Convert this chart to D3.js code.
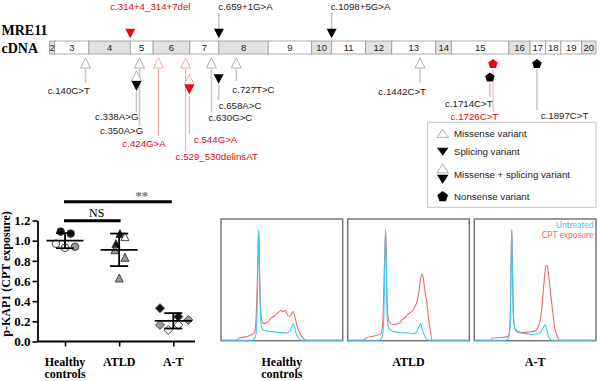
<!DOCTYPE html>
<html><head><meta charset="utf-8">
<script src="https://cdn.jsdelivr.net/npm/d3@7"></script>
<style>body{margin:0;background:#fff} svg{display:block}</style>
</head><body>
<svg id="chart" width="600" height="381"></svg>
<script>
// ---------------- data ----------------
const exonNumbers = [2,3,4,5,6,7,8,9,10,11,12,13,14,15,16,17,18,19,20];
const exonEnds    = [20,153,314,403,546,659,851,1020,1098,1230,1332,1503,1565,1788,1870,1931,1990,2071,2127];
const exonShaded  = [true,false,true,false,true,false,true,false,true,false,true,false,true,false,true,false,false,false,true];
const cdnaLength  = 2127;

const aboveNames     = ["c.314+4_314+7del","c.659+1G>A","c.1098+5G>A"];
const abovePositions = [314,659,1098];
const aboveHighlight = [true,false,false];

const belowNames     = ["c.140C>T","c.338A>G","c.350A>G","c.424G>A","c.529_530delinsAT","c.544G>A","c.630G>C","c.658A>C","c.727T>C","c.1442C>T","c.1714C>T","c.1726C>T","c.1897C>T"];
const belowPositions = [140,338,350,424,529.5,544,630,658,727,1442,1714,1726,1897];
const belowTypes     = ["missense","missense+splicing","missense","missense","missense","missense+splicing","missense","splicing","missense","missense","nonsense","nonsense","nonsense"];
const belowHighlight = [false,false,false,true,true,true,false,false,false,false,false,true,false];

const legendLabels = ["Missense variant","Splicing variant","Missense + splicing variant","Nonsense variant"];
const legendTypes  = ["missense","splicing","missense+splicing","nonsense"];

const groups        = ["Healthy controls","ATLD","A-T"];
const healthyValues = [1.09,1.07,0.97,0.93,0.94];
const healthyFills  = ["black","black","white","white","gray"];
const atldValues    = [1.07,0.97,1.04,0.91,0.835,0.63];
const atldFills     = ["black","black","white","gray","gray","gray"];
const atValues      = [0.33,0.246,0.164,0.114,0.164,0.213];
const atFills       = ["black","black","gray","white","white","gray"];
const yTicks        = [0,0.2,0.4,0.6,0.8,1.0,1.2];
const yTitle        = "p-KAP1 (CPT exposure)";
const sigLabels     = ["**","NS"];

const seriesNames = ["Untreated","CPT exposure"];
const histPanels  = ["Healthy controls","ATLD","A-T"];
const healthyUntreated = [[0,0],[50,0],[54,0.01],[57,0.04],[59,0.2],[60.5,0.6],[61.5,0.95],[62,1.0],[63,0.7],[64.5,0.3],[66,0.14],[70,0.09],[80,0.08],[95,0.07],[108,0.065],[113,0.08],[116,0.12],[118.5,0.15],[120.5,0.13],[123,0.07],[127,0.02],[132,0],[200,0]];
const healthyCPT = [[0,0],[25,0],[30,0.02],[40,0.03],[50,0.05],[55,0.07],[58,0.25],[60,0.6],[61.5,0.95],[62.2,0.99],[63.5,0.6],[65,0.3],[67,0.18],[70,0.15],[76,0.16],[82,0.2],[88,0.22],[94,0.25],[98,0.27],[102,0.26],[106,0.27],[110,0.22],[114,0.22],[117,0.25],[119,0.26],[121,0.22],[124,0.15],[128,0.08],[133,0.03],[140,0],[200,0]];
const atldUntreated = [[0,0],[52,0],[56,0.02],[59,0.15],[61,0.7],[62.3,1.0],[63.5,0.7],[65,0.2],[68,0.1],[75,0.08],[86,0.07],[100,0.065],[109,0.06],[114,0.08],[117,0.12],[120,0.15],[122,0.11],[125,0.06],[130,0.01],[135,0],[200,0]];
const atldCPT = [[0,0],[25,0],[30,0.02],[45,0.04],[55,0.06],[58,0.2],[60.5,0.7],[62.3,1.0],[63.5,0.75],[65,0.3],[68,0.17],[75,0.14],[82,0.15],[86,0.16],[90,0.19],[94,0.2],[98,0.23],[103,0.25],[107,0.27],[111,0.31],[114,0.35],[116,0.4],[119,0.52],[122,0.6],[124,0.57],[127,0.45],[130,0.35],[133,0.2],[136,0.08],[139,0],[200,0]];
const atUntreated = [[0,0],[52,0],[56,0.02],[59,0.15],[60.5,0.7],[61.5,1.0],[62.5,0.7],[64,0.25],[67,0.1],[72,0.07],[85,0.06],[95,0.05],[105,0.06],[110,0.08],[114,0.12],[116.5,0.14],[119,0.1],[122,0.03],[127,0],[200,0]];
const atCPT = [[0,0],[27,0],[30,0.02],[45,0.025],[53,0.03],[57,0.05],[59,0.2],[60.5,0.7],[61.8,1.0],[63,0.6],[64.5,0.2],[67,0.1],[72,0.08],[80,0.07],[90,0.075],[98,0.08],[105,0.12],[109,0.2],[112,0.35],[115,0.55],[118,0.68],[120,0.67],[123,0.55],[126,0.4],[129,0.25],[132,0.12],[136,0.04],[140,0],[200,0]];

// ---------------- layout ----------------
const SANS = "'Liberation Sans', Arial, sans-serif";
const SERIF = "'Liberation Serif', 'Times New Roman', serif";
const RED = "#e30613", LIGHTRED = "#f5a3a3", GRAYLINE = "#c8c8c8", TRI_GRAY = "#b0b0b0";

const svg = d3.select("#chart");

// ===== gene diagram =====
const xGene = d3.scaleLinear().domain([0, cdnaLength]).range([49.6, 596]);
const barTop = 41, barH = 13;

svg.append("text").attr("x",1.5).attr("y",35).attr("font-family",SERIF).attr("font-weight","bold").attr("font-size",14).text("MRE11");
svg.append("text").attr("x",1.5).attr("y",53).attr("font-family",SERIF).attr("font-weight","bold").attr("font-size",14).text("cDNA");

const exons = exonNumbers.map((n,i)=>({n, start: i===0?0:exonEnds[i-1], end: exonEnds[i], shaded: exonShaded[i]}));
const eg = svg.append("g");
eg.selectAll("rect").data(exons).join("rect")
  .attr("x", d=>xGene(d.start)).attr("y", barTop)
  .attr("width", d=>xGene(d.end)-xGene(d.start)).attr("height", barH)
  .attr("fill", d=>d.shaded?"#e2e2e2":"#fff").attr("stroke","#9a9a9a").attr("stroke-width",0.8);
eg.selectAll("text").data(exons).join("text")
  .attr("x", d=>(xGene(d.start)+xGene(d.end))/2).attr("y", barTop+10)
  .attr("text-anchor","middle").attr("font-family",SANS).attr("font-size",9.5).attr("fill","#222")
  .text(d=>d.n);

function tri(x,y,w,h,up){ return up ? `M${x-w/2},${y+h/2}L${x+w/2},${y+h/2}L${x},${y-h/2}Z` : `M${x-w/2},${y-h/2}L${x+w/2},${y-h/2}L${x},${y+h/2}Z`; }
function pent(x,y,r){ return d3.range(5).map(i=>{const a=(-90+i*72)*Math.PI/180; return [x+r*Math.cos(a), y+r*Math.sin(a)];}); }

function drawMarker(g, type, x, y, red, s){
  s = s || 1;
  const w = 10*s, h = 10*s;
  if (type==="missense" || type==="missense+splicing"){
    g.append("path").attr("d", tri(x,y,w,h,true)).attr("fill","#fff").attr("stroke", red?LIGHTRED:TRI_GRAY).attr("stroke-width",1);
  }
  if (type==="splicing"){
    g.append("path").attr("d", tri(x,y,w,h*0.95,false)).attr("fill", red?RED:"#000");
  }
  if (type==="missense+splicing"){
    g.append("path").attr("d", tri(x,y+h,w,h,false)).attr("fill", red?RED:"#000");
  }
  if (type==="nonsense"){
    g.append("polygon").attr("points", pent(x,y,5*s).map(p=>p.join(",")).join(" ")).attr("fill", red?RED:"#000");
  }
}

// label layout (marker y, line extent, label anchor/offset/baseline)
const aboveLayout = {
  "c.314+4_314+7del": {my:33.5, line:null, lx:-20, ly:10},
  "c.659+1G>A":       {my:33.5, line:[13,29], lx:-0.6, ly:10},
  "c.1098+5G>A":      {my:33.5, line:[13,29], lx:-1, ly:10}
};
const belowLayout = {
  "c.140C>T":          {my:63,   line:[69,83],   anchor:"end",   lx:4.4,  ly:94},
  "c.338A>G":          {my:76,   line:[92,112],  anchor:"end",   lx:2,    ly:120},
  "c.350A>G":          {my:63,   line:[69,126],  anchor:"end",   lx:3.8,  ly:133.5},
  "c.424G>A":          {my:63,   line:[69,136],  anchor:"end",   lx:7.2,  ly:147},
  "c.529_530delinsAT": {my:63,   line:[69,151],  anchor:"start", lx:-10,  ly:160},
  "c.544G>A":          {my:79.5, line:[96,134],  anchor:"start", lx:4.6,  ly:142.5},
  "c.630G>C":          {my:63,   line:[69,112],  anchor:"start", lx:-3,   ly:121},
  "c.658A>C":          {my:79,   line:[85,100],  anchor:"start", lx:0,    ly:108.5},
  "c.727T>C":          {my:63,   line:[69,81],   anchor:"start", lx:-4,   ly:93},
  "c.1442C>T":         {my:63,   line:[69,83],   anchor:"end",   lx:6,    ly:95},
  "c.1714C>T":         {my:77.5, line:[83,97],   anchor:"end",   lx:2.8,  ly:107},
  "c.1726C>T":         {my:64,   line:[69,112],  anchor:"end",   lx:5.3,  ly:119.5},
  "c.1897C>T":         {my:64,   line:[69,110],  anchor:"start", lx:3.8,  ly:118.5}
};

const vg = svg.append("g");
belowNames.forEach((name,i)=>{
  const L = belowLayout[name], x = xGene(belowPositions[i]);
  vg.append("line").attr("x1",x).attr("x2",x).attr("y1",L.line[0]).attr("y2",L.line[1])
    .attr("stroke", belowHighlight[i]?LIGHTRED:GRAYLINE).attr("stroke-width", belowHighlight[i]?1:1.6);
});
aboveNames.forEach((name,i)=>{
  const L = aboveLayout[name], x = xGene(abovePositions[i]);
  if (L.line) vg.append("line").attr("x1",x).attr("x2",x).attr("y1",L.line[0]).attr("y2",L.line[1]).attr("stroke",GRAYLINE).attr("stroke-width",1.6);
});
belowNames.forEach((name,i)=>{
  const L = belowLayout[name], x = xGene(belowPositions[i]);
  drawMarker(vg, belowTypes[i], x, L.my, belowHighlight[i]);
  vg.append("text").attr("x", x+L.lx).attr("y", L.ly).attr("text-anchor", L.anchor)
    .attr("font-family",SANS).attr("font-size",9.7).attr("fill", belowHighlight[i]?RED:"#222").text(name);
});
aboveNames.forEach((name,i)=>{
  const L = aboveLayout[name], x = xGene(abovePositions[i]);
  drawMarker(vg, "splicing", x, L.my, aboveHighlight[i]);
  vg.append("text").attr("x", x+L.lx).attr("y", L.ly).attr("font-family",SANS).attr("font-size",9.7)
    .attr("fill", aboveHighlight[i]?RED:"#222").text(name);
});

// legend
const lg = svg.append("g");
lg.append("rect").attr("x",427.7).attr("y",122.3).attr("width",168.3).attr("height",85).attr("fill","#fff").attr("stroke","#c4c4c4").attr("stroke-width",1);
const legY = [133.3,151.7,168.3,196.7], legTextY = [136.6,155,178.3,200];
legendTypes.forEach((t,i)=>{
  const x = 442.7, y = legY[i];
  if (t==="missense") lg.append("path").attr("d",tri(x,y,11.5,8,true)).attr("fill","#fff").attr("stroke",TRI_GRAY);
  if (t==="splicing") lg.append("path").attr("d",tri(x,y,11.5,8,false)).attr("fill","#000");
  if (t==="missense+splicing"){
    lg.append("path").attr("d",tri(x,y,11.5,9,true)).attr("fill","#fff").attr("stroke",TRI_GRAY);
    lg.append("path").attr("d",tri(x,y+11,11.5,9,false)).attr("fill","#000");
  }
  if (t==="nonsense") lg.append("polygon").attr("points", pent(x,y,5.6).map(p=>p.join(",")).join(" ")).attr("fill","#000");
  lg.append("text").attr("x",454).attr("y",legTextY[i]).attr("font-family",SANS).attr("font-size",9.7).attr("fill","#222").text(legendLabels[i]);
});

// ===== scatter / error bar plot =====
const xS = d3.scalePoint().domain(groups).range([65,173.3]);
const yS = d3.scaleLinear().domain([0,1.2]).range([341.5,220.5]);

const yAx = svg.append("g").attr("transform","translate(37.5,0)")
  .call(d3.axisLeft(yS).tickValues(yTicks).tickFormat(d3.format(".1f")).tickSize(5).tickSizeOuter(0));
yAx.select(".domain").attr("stroke","#000").attr("stroke-width",1.8);
yAx.selectAll(".tick line").attr("stroke","#000").attr("stroke-width",1.6);
yAx.selectAll(".tick text").attr("font-family",SERIF).attr("font-weight","bold").attr("font-size",13).attr("fill","#000").attr("x",-7);

const xAx = svg.append("g").attr("transform","translate(0,341.5)")
  .call(d3.axisBottom(xS).tickSize(5).tickSizeOuter(0).tickFormat(""));
xAx.select(".domain").attr("d","M37.5,0H195").attr("stroke","#000").attr("stroke-width",1.8);
xAx.selectAll(".tick line").attr("stroke","#000").attr("stroke-width",1.6);

groups.forEach(gname=>{
  const words = gname.split(" ");
  const t = svg.append("text").attr("x", xS(gname)).attr("y",365.5).attr("text-anchor","middle")
    .attr("font-family",SERIF).attr("font-weight","bold").attr("font-size",12);
  words.forEach((w,k)=>t.append("tspan").attr("x",xS(gname)).attr("dy",k===0?0:12.5).text(w));
});

svg.append("text").attr("transform","translate(10,274) rotate(-90)").attr("text-anchor","middle")
  .attr("font-family",SERIF).attr("font-weight","bold").attr("font-size",12).text(yTitle);

const groupValues = [healthyValues, atldValues, atValues];
const groupFills  = [healthyFills, atldFills, atFills];
const jitter = [[-4.3,5.7,-9,0,10],[0.8,-3.2,5.8,-4.2,5.8,0.1],[-13.3,5,-13.3,-5,5,15]];
const fillColor = {black:"#111", white:"#fff", gray:"#9a9a9a"};

const sg = svg.append("g");
groups.forEach((gname,gi)=>{
  const vals = groupValues[gi], cx = xS(gname);
  const m = d3.mean(vals), sd = d3.deviation(vals);
  vals.forEach((v,k)=>{
    const x = cx + jitter[gi][k], y = yS(v), f = fillColor[groupFills[gi][k]];
    if (gi===0) sg.append("circle").attr("cx",x).attr("cy",y).attr("r",3.8).attr("fill",f).attr("stroke","#333").attr("stroke-width",0.9);
    if (gi===1) sg.append("path").attr("d",tri(x,y,8,8,true)).attr("fill",f).attr("stroke","#333").attr("stroke-width",0.9);
    if (gi===2) sg.append("path").attr("d",`M${x},${y-4.5}L${x+4.5},${y}L${x},${y+4.5}L${x-4.5},${y}Z`).attr("fill",f).attr("stroke","#333").attr("stroke-width",0.9);
  });
  sg.append("line").attr("x1",cx-18.5).attr("x2",cx+18.5).attr("y1",yS(m)).attr("y2",yS(m)).attr("stroke","#000").attr("stroke-width",1.8);
  sg.append("line").attr("x1",cx).attr("x2",cx).attr("y1",yS(m-sd)).attr("y2",yS(m+sd)).attr("stroke","#000").attr("stroke-width",1.8);
  [m-sd,m+sd].forEach(v=>sg.append("line").attr("x1",cx-9).attr("x2",cx+9).attr("y1",yS(v)).attr("y2",yS(v)).attr("stroke","#000").attr("stroke-width",1.8));
});

// significance bars
svg.append("line").attr("x1",xS(groups[0])-1).attr("x2",xS(groups[2])-1.5).attr("y1",201.7).attr("y2",201.7).attr("stroke","#000").attr("stroke-width",3);
svg.append("text").attr("x",141.7).attr("y",200).attr("text-anchor","middle").attr("font-family",SERIF).attr("font-weight","bold").attr("font-size",13).attr("fill","#777").text(sigLabels[0]);
svg.append("line").attr("x1",xS(groups[0])-1).attr("x2",xS(groups[1])+1.5).attr("y1",220.7).attr("y2",220.7).attr("stroke","#000").attr("stroke-width",3);
svg.append("text").attr("x",96.7).attr("y",216.5).attr("text-anchor","middle").attr("font-family",SERIF).attr("font-size",12).text(sigLabels[1]);

// ===== histograms =====
const panelX = [[221,342.7],[347.7,469.3],[474.3,596]];
const panelTop = 219, panelBottom = 340.7;
const untreatedSets = [healthyUntreated, atldUntreated, atUntreated];
const cptSets = [healthyCPT, atldCPT, atCPT];
const BLUE = "#3cc8f0", HRED = "#f06a6a";

histPanels.forEach((pname,i)=>{
  const [x0,x1] = panelX[i];
  const xH = d3.scaleLinear().domain([0,200]).range([x0,x1]);
  const yH = d3.scaleLinear().domain([0,1.1]).range([panelBottom-0.5,panelTop]);
  const line = d3.line().x(d=>xH(d[0])).y(d=>yH(d[1])).curve(d3.curveMonotoneX);
  const g = svg.append("g");
  g.append("rect").attr("x",x0).attr("y",panelTop).attr("width",x1-x0).attr("height",panelBottom-panelTop)
    .attr("fill","#fff").attr("stroke","#777").attr("stroke-width",1.5);
  g.append("path").attr("d",line(cptSets[i])).attr("fill","none").attr("stroke",HRED).attr("stroke-width",1.1);
  g.append("path").attr("d",line(untreatedSets[i])).attr("fill","none").attr("stroke",BLUE).attr("stroke-width",1.1);
  const words = pname.split(" ");
  const t = svg.append("text").attr("x",(x0+x1)/2).attr("y",365.5).attr("text-anchor","middle")
    .attr("font-family",SERIF).attr("font-weight","bold").attr("font-size",12);
  words.forEach((w,k)=>t.append("tspan").attr("x",(x0+x1)/2).attr("dy",k===0?0:12.5).text(w));
});
svg.append("text").attr("x",593.5).attr("y",228).attr("text-anchor","end").attr("font-family","Lato, sans-serif").attr("font-size",8.5).attr("fill",BLUE).text(seriesNames[0]);
svg.append("text").attr("x",593.5).attr("y",238).attr("text-anchor","end").attr("font-family","Lato, sans-serif").attr("font-size",8.5).attr("fill",HRED).text(seriesNames[1]);
</script>
</body></html>
